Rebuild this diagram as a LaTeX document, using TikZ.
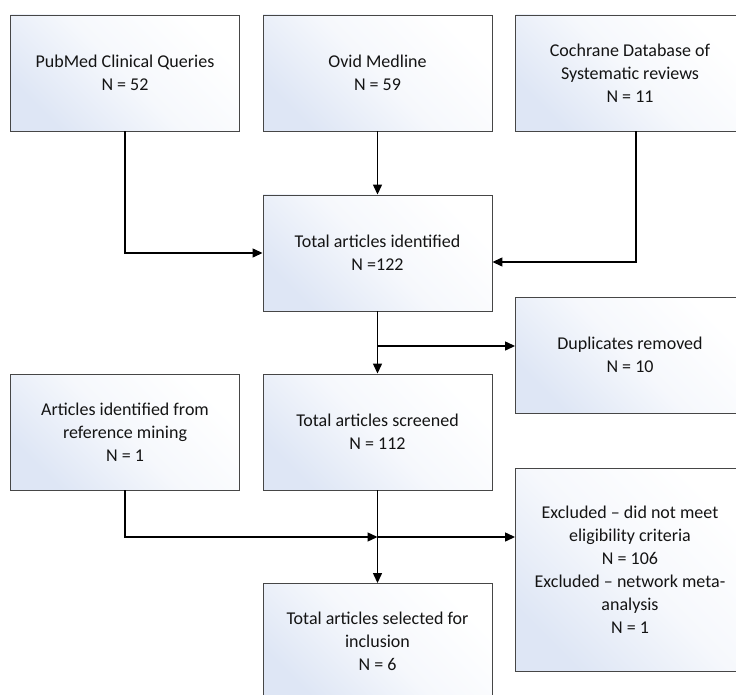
\documentclass[tikz,border=0pt]{standalone}
\usepackage{fontspec}
\setmainfont{Carlito}
\usetikzlibrary{arrows.meta}
\definecolor{boxtop}{RGB}{222,230,245}
\definecolor{boxline}{RGB}{70,70,70}
\definecolor{txt}{RGB}{20,20,20}
\tikzset{
  box/.style={draw=boxline, line width=0.9pt, top color=boxtop, bottom color=white,
    middle color=white!72!boxtop, shading angle=135,
    minimum width=229pt, minimum height=116pt, inner sep=2pt, align=center, text=txt,
    font=\fontsize{18}{23}\selectfont},
  conn/.style={line width=1.3pt, draw=black},
  arr/.style={conn, -{Triangle[length=10pt,width=9pt]}}
}
\begin{document}
\begin{tikzpicture}[x=1pt,y=-1pt]
\useasboundingbox (0,0) rectangle (736,695);
\clip (0,0) rectangle (736,695);
\fill[white] (0,0) rectangle (736,695);
\node[box] (pub) at (125,73) {PubMed Clinical Queries\\N = 52};
\node[box] (ovid) at (377.5,73) {Ovid Medline\\N = 59};
\node[box] (coch) at (630,73) {Cochrane Database of\\Systematic reviews\\N = 11};
\node[box] (ident) at (377.5,253) {Total articles identified\\N =122};
\node[box] (dup) at (630,355) {Duplicates removed\\N = 10};
\node[box] (ref) at (125,432) {Articles identified from\\reference mining\\N = 1};
\node[box] (scr) at (377.5,432) {Total articles screened\\N = 112};
\node[box, minimum height=203pt] (exc) at (630,569.5) {Excluded – did not meet\\eligibility criteria\\N = 106\\Excluded – network meta-\\analysis\\N = 1};
\node[box] (sel) at (377.5,641.5) {Total articles selected for\\inclusion\\N = 6};
\coordinate (cochturn) at (636,262);
\coordinate (dupbranch) at (377.5,346);
\coordinate (join) at (377.5,537);
\draw[arr] (pub.south) |- (ident.west);
\draw[arr] (ovid.south) -- (ident.north);
\draw[arr] (coch.south -| cochturn) -- (cochturn) -- (cochturn -| ident.east);
\draw[arr] (ident.south) -- (scr.north);
\draw[arr] (dupbranch) -- (dupbranch -| dup.west);
\draw[arr] (scr.south) -- (sel.north);
\draw[arr] (ref.south) |- (join);
\draw[arr] (join) -- (join -| exc.west);
\end{tikzpicture}
\end{document}
